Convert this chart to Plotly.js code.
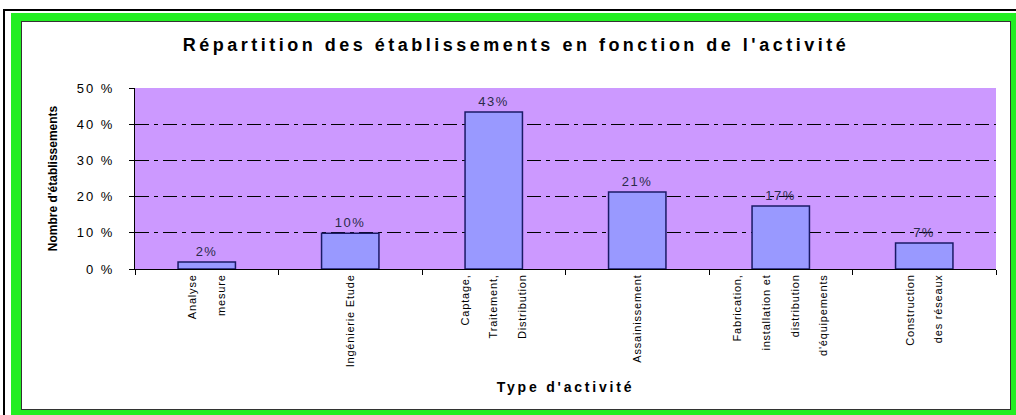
<!DOCTYPE html>
<html>
<head>
<meta charset="utf-8">
<script src="https://cdn.plot.ly/plotly-3.0.1.min.js"></script>
<style>
  html, body { margin: 0; padding: 0; width: 1016px; height: 415px; overflow: hidden; background: #ffffff; }
  #blackline { position: absolute; left: 3px; top: 9px; width: 1100px; height: 500px; border-top: 2px solid #000; border-left: 2px solid #000; }
  #green { position: absolute; left: 11px; top: 13px; width: 1100px; height: 500px; background: #22ee22; }
  #chart { position: absolute; left: 21px; top: 21px; width: 988px; height: 387px; border: 1px solid #333; background: #fff; }
  #chart .gtitle { letter-spacing: 3.5px; }
  #chart .g-xtitle text { letter-spacing: 2.8px; }
  #chart .ytick text { letter-spacing: 2px; }
  #chart .xtick text { letter-spacing: 0.8px; }
  #chart .bartext text, #chart text.bartext { letter-spacing: 1.5px; }
</style>
</head>
<body>
<div id="blackline"></div>
<div id="green"></div>
<div id="chart"></div>
<script>
// Data
var categories = [
  "Analyse<br><br>mesure",
  "Ingénierie Etude",
  "Captage,<br><br>Traitement,<br><br>Distribution",
  "Assainissement",
  "Fabrication,<br><br>installation et<br><br>distribution<br><br>d'équipements",
  "Construction<br><br>des réseaux"
];
var shares = [1.9, 9.9, 43.4, 21.3, 17.4, 7.2];
var yTicks = [0, 10, 20, 30, 40, 50];
var yTickLabels = ["0 %", "10 %", "20 %", "30 %", "40 %", "50 %"];
var chartTitle = "Répartition des établissements en fonction de l'activité";
var xTitle = "Type d'activité";
var yTitle = "Nombre d'établissements";

var trace = {
  type: "bar",
  x: categories,
  y: shares,
  marker: { color: "#9999ff", line: { color: "#1a1a66", width: 1.5 } },
  text: shares.map(function (v) { return Math.round(v) + "%"; }),
  textposition: "outside",
  textfont: { family: "Liberation Sans, Arial, sans-serif", size: 13, color: "#2a2a4a" },
  cliponaxis: false,
  hoverinfo: "x+y"
};

var layout = {
  width: 988,
  height: 387,
  margin: { l: 113, r: 14, t: 66, b: 140 },
  paper_bgcolor: "#ffffff",
  plot_bgcolor: "#cc99ff",
  font: { family: "Liberation Sans, Arial, sans-serif", color: "#000" },
  bargap: 0.6,
  showlegend: false,
  title: {
    text: "<b>" + chartTitle + "</b>",
    font: { size: 18, color: "#000" },
    x: 0.5, xref: "container", xanchor: "center",
    y: 1 - 23 / 387, yref: "container", yanchor: "middle"
  },
  xaxis: {
    type: "category",
    tickangle: -90,
    tickson: "boundaries",
    ticks: "outside",
    ticklen: 5,
    tickcolor: "#000",
    showline: true,
    linecolor: "#000",
    linewidth: 1,
    showgrid: false,
    tickfont: { size: 11, color: "#000" },
    automargin: false,
    title: { text: "<b>" + xTitle + "</b>", font: { size: 14, color: "#000" }, standoff: 28 }
  },
  yaxis: {
    range: [0, 50],
    tickvals: yTicks,
    ticktext: yTickLabels,
    ticks: "outside",
    ticklen: 5,
    tickcolor: "#000",
    ticklabelstandoff: 12,
    showline: true,
    linecolor: "#000",
    linewidth: 1,
    showgrid: true,
    gridcolor: "#000",
    gridwidth: 1,
    griddash: "14px,5px,4px,5px",
    zeroline: false,
    tickfont: { size: 13, color: "#000" },
    automargin: false,
    title: { text: "<b>" + yTitle + "</b>", font: { size: 12, color: "#000" }, standoff: 24 }
  }
};

Plotly.newPlot("chart", [trace], layout, { displayModeBar: false, staticPlot: true });
</script>
</body>
</html>
